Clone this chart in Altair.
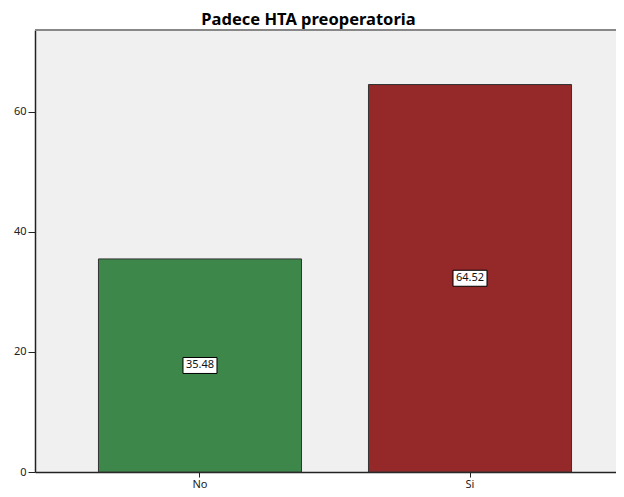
import altair as alt
import pandas as pd

categories = ["No", "Si"]
values = [35.48, 64.52]
labels = ["35.48", "64.52"]
colors = ["#3E874B", "#952828"]

df = pd.DataFrame({
    "cat": categories,
    "val": values,
    "half": [v / 2 for v in values],
    "lab": labels,
})

FONT = "Noto Sans"
PLOT_W = 581
PLOT_H = 442

x = alt.X("cat:N", sort=categories,
          scale=alt.Scale(range=[0, 600], paddingInner=0.248, paddingOuter=0.235),
          axis=alt.Axis(title=None, labelAngle=0, tickSize=5, labelPadding=1,
                        labelFont=FONT, labelFontSize=11, labelColor="#222",
                        domainColor="#222", tickColor="#222", grid=False, domainWidth=1.5))
yscale = alt.Scale(domain=[0, 73.6], nice=False, zero=True)

bars = alt.Chart(df).mark_bar(stroke="#333", strokeWidth=1).encode(
    x=x,
    y=alt.Y("val:Q", scale=yscale,
            axis=alt.Axis(title=None, values=[0, 20, 40, 60], tickSize=7, labelPadding=2,
                          labelFont=FONT, labelFontSize=11, labelColor="#222",
                          domainColor="#222", tickColor="#222", grid=False, domainWidth=1.5)),
    color=alt.Color("cat:N", scale=alt.Scale(domain=categories, range=colors), legend=None),
)

top_border = alt.Chart(df).mark_rule(color="#888", strokeWidth=2).encode(
    y=alt.value(0), x=alt.value(0), x2=alt.value(PLOT_W)
)

boxes = alt.Chart(df).mark_point(
    shape="M-1,-0.47L1,-0.47L1,0.47L-1,0.47Z", size=1156,
    filled=True, fill="white", stroke="black", strokeWidth=1, opacity=1,
).encode(x=alt.X("cat:N", sort=categories), y=alt.Y("half:Q", scale=yscale))

texts = alt.Chart(df).mark_text(font=FONT, fontSize=11, color="#111").encode(
    x=alt.X("cat:N", sort=categories), y=alt.Y("half:Q", scale=yscale), text="lab:N"
)

chart = alt.layer(bars, top_border, boxes, texts).properties(
    width=PLOT_W, height=PLOT_H,
    title=alt.TitleParams("Padece HTA preoperatoria", font=FONT, fontSize=16.5,
                          fontWeight="bold", anchor="middle", dx=-17, offset=1, color="#000"),
    autosize=alt.AutoSizeParams(type="none"),
    padding={"left": 27, "top": 22, "right": 0, "bottom": 17},
).configure_view(fill="#F0F0F0", stroke=None)

chart.save("out.html", embed_options={"renderer": "svg", "actions": False})
